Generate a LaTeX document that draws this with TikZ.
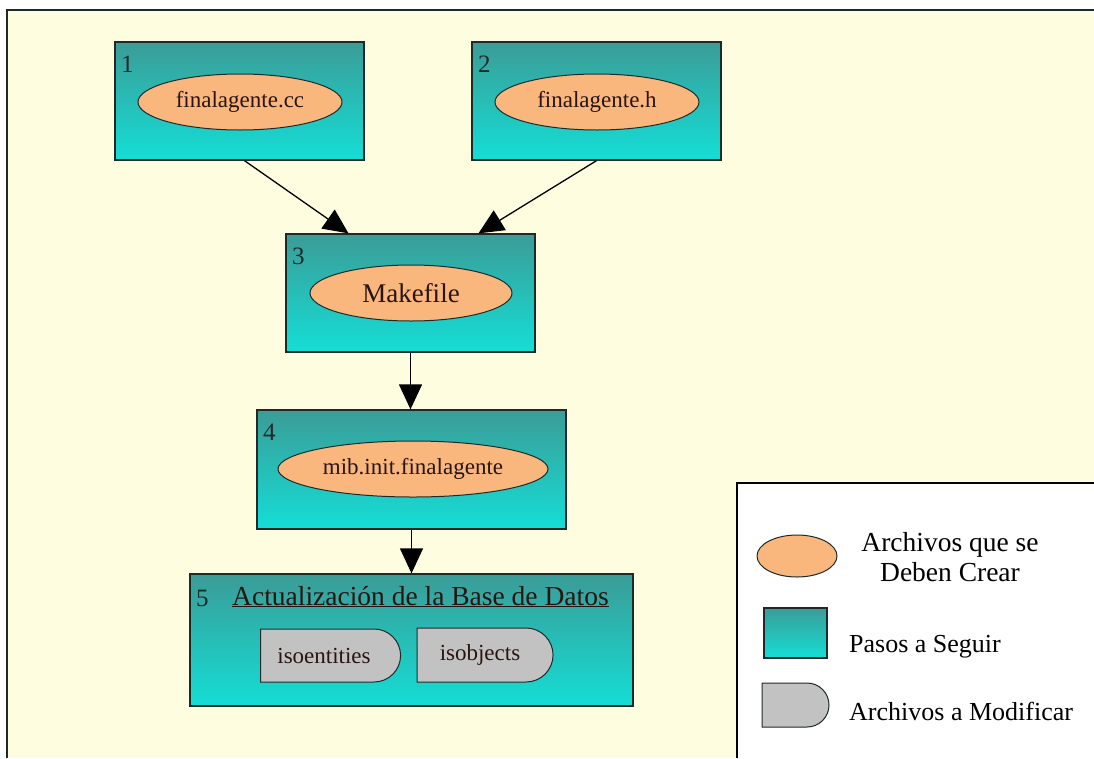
\documentclass[tikz,border=0pt]{standalone}
\usepackage{fontspec}
\setmainfont{Liberation Serif}
\usetikzlibrary{arrows.meta,shapes.geometric,shapes.misc,calc}

\definecolor{paper}{HTML}{FFFDE0}
\definecolor{tealtop}{HTML}{3B9C97}
\definecolor{tealbot}{HTML}{14DED6}
\definecolor{peach}{HTML}{F9B77E}
\definecolor{docgray}{HTML}{C2C2C2}
\definecolor{ink}{HTML}{2A1410}
\definecolor{frame}{HTML}{1E2A2A}

\tikzset{
  stepbox/.style={draw=frame, line width=1.3pt, top color=tealtop, bottom color=tealbot,
    rectangle, inner sep=0pt},
  filenode/.style={ellipse, draw=frame, line width=1pt, fill=peach, inner sep=0pt,
    text=ink, font=\fontsize{23}{27}\selectfont},
  docnode/.style={rounded rectangle, rounded rectangle left arc=none, draw=frame,
    line width=1pt, fill=docgray, inner sep=0pt, text=ink,
    font=\fontsize{23}{27}\selectfont},
  steplabel/.style={anchor=base west, inner sep=0pt, text=frame,
    font=\fontsize{25}{29}\selectfont},
  legendtext/.style={inner sep=0pt, text=black, font=\fontsize{26}{29}\selectfont},
  flow/.style={line width=1.3pt, draw=black, -{Triangle[length=25pt,width=23pt]}},
}

\begin{document}
\begin{tikzpicture}[x=1pt,y=-1pt]
  \useasboundingbox (0,0) rectangle (1094,758);
  % page and its frame
  \fill[white] (0,0) rectangle (1094,758);
  \fill[paper] (7,10) rectangle (1094,758);
  \draw[line width=1.6pt, frame] (7,758) -- (7,10) -- (1094,10);

  % legend panel
  \fill[white] (737,483) rectangle (1094,758);
  \draw[line width=1.4pt, black] (737,758) -- (737,483) -- (1094,483);

  % steps
  \node[stepbox, minimum width=249pt, minimum height=118pt] (b1) at (239.5,101) {};
  \node[stepbox, minimum width=249pt, minimum height=118pt] (b2) at (596.5,101) {};
  \node[stepbox, minimum width=249pt, minimum height=118pt] (b3) at (410.5,293) {};
  \node[stepbox, minimum width=309pt, minimum height=119pt] (b4) at (411.5,469.5) {};
  \node[stepbox, minimum width=443pt, minimum height=132pt] (b5) at (411.5,640) {};

  \node[steplabel] (n1) at (121,72) {1};
  \node[steplabel] (n2) at (478,72) {2};
  \node[steplabel] (n3) at (292,264) {3};
  \node[steplabel] (n4) at (263,440) {4};
  \node[steplabel] (n5) at (196,606) {5};
  \node[steplabel, text=ink, font=\fontsize{27.5}{31}\selectfont] (t5) at (232,605)
    {\underline{Actualización de la Base de Datos}};

  % files to create
  \node[filenode, minimum width=204pt, minimum height=56pt] (f1) at (240,102) {finalagente.cc};
  \node[filenode, minimum width=204pt, minimum height=56pt] (f2) at (597,102) {finalagente.h};
  \node[filenode, minimum width=202pt, minimum height=56pt,
        font=\fontsize{27}{31}\selectfont] (f3) at (411,293) {Makefile};
  \node[filenode, minimum width=270pt, minimum height=56pt] (f4) at (413,469) {mib.init.finalagente};

  % files to modify
  \node[docnode, minimum width=140pt, minimum height=53pt] (d1) at (330,655.5) {isoentities\kern12pt};
  \node[docnode, minimum width=136pt, minimum height=54pt] (d2) at (484,655) {isobjects\kern8pt};

  % flow between steps
  \draw[flow] ([xshift=5pt]b1.south) -- ([xshift=-62pt]b3.north);
  \draw[flow] ([xshift=0pt]b2.south) -- ([xshift=68pt]b3.north);
  \draw[flow] (b3.south) -- (b4.north -| b3.south);
  \draw[flow] (b4.south) -- (b5.north -| b4.south);

  % legend
  \node[filenode, minimum width=80pt, minimum height=42pt] (l1) at (797,556) {};
  \node[stepbox, minimum width=63pt, minimum height=50pt] (l2) at (795.5,633) {};
  \node[docnode, minimum width=67pt, minimum height=44pt] (l3) at (795.5,705) {};
  \node[legendtext, align=center, anchor=center, font=\fontsize{27.5}{30}\selectfont] (lt1) at (950,557)
    {Archivos que se\\Deben Crear};
  \node[legendtext, anchor=base west] (lt2) at (849,652) {Pasos a Seguir};
  \node[legendtext, anchor=base west] (lt3) at (849,720) {Archivos a Modificar};
\end{tikzpicture}
\end{document}
